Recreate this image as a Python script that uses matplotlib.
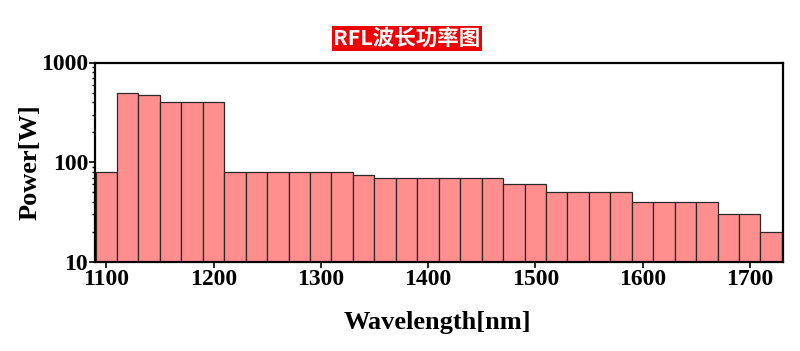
import matplotlib
matplotlib.use("Agg")
import matplotlib.pyplot as plt
from matplotlib.ticker import LogLocator, FixedLocator, NullFormatter

# Data
wavelengths = [1100, 1120, 1140, 1160, 1180, 1200, 1220, 1240, 1260, 1280, 1300,
               1320, 1340, 1360, 1380, 1400, 1420, 1440, 1460, 1480, 1500, 1520,
               1540, 1560, 1580, 1600, 1620, 1640, 1660, 1680, 1700, 1720]
power = [80, 490, 470, 400, 400, 400, 80, 80, 80, 80, 80,
         80, 75, 70, 70, 70, 70, 70, 70, 60, 60, 50,
         50, 50, 50, 40, 40, 40, 40, 30, 30, 20]
x_ticks = [1100, 1200, 1300, 1400, 1500, 1600, 1700]
y_ticks = [10, 100, 1000]
y_tick_labels = ["10", "100", "1000"]
title = "RFL波长功率图"
xlabel = "Wavelength[nm]"
ylabel = "Power[W]"

serif = ["Liberation Serif", "DejaVu Serif"]

fig = plt.figure(figsize=(8.0, 3.51), dpi=100)
ax = fig.add_axes([95/800, 1-262/351, (783-95)/800, (262-62.5)/351])

ax.bar(wavelengths, power, width=20, color="#FF8F8F", edgecolor="#2a2a2a",
       linewidth=0.9, align="center", zorder=2)

ax.set_yscale("log")
ax.set_ylim(10, 1000)
ax.set_xlim(1089.5, 1731)

ax.xaxis.set_major_locator(FixedLocator(x_ticks))
ax.set_xticklabels([str(t) for t in x_ticks])
ax.yaxis.set_major_locator(FixedLocator(y_ticks))
ax.set_yticklabels(y_tick_labels)
ax.yaxis.set_minor_locator(LogLocator(base=10, subs=range(2, 10)))
ax.yaxis.set_minor_formatter(NullFormatter())
ax.xaxis.set_minor_locator(FixedLocator([]))

ax.tick_params(axis="both", which="major", direction="out", length=4, width=1.2,
               labelsize=17, pad=1, top=False, right=False)
ax.tick_params(axis="y", which="minor", direction="out", length=2.5, width=1.0)
for lab in ax.get_xticklabels() + ax.get_yticklabels():
    lab.set_fontfamily(serif)
    lab.set_fontweight("bold")

for sp in ax.spines.values():
    sp.set_linewidth(1.6)
    sp.set_color("black")

fig.text(30/800, 1-162.5/351, ylabel, rotation=90, ha="center", va="center",
         fontsize=19, fontweight="bold", family=serif)
fig.text(437.5/800, 1-322.5/351, xlabel, ha="center", va="center",
         fontsize=19, fontweight="bold", family=serif)

fig.text(407/800, 1-38.5/351, title, ha="center", va="center", color="white",
         fontsize=15.5, fontweight="bold", family=["Noto Sans CJK SC", "DejaVu Sans"],
         bbox=dict(boxstyle="square,pad=0.08", facecolor="#EE0000", edgecolor="none"))

fig.savefig("out.png", dpi=100)
